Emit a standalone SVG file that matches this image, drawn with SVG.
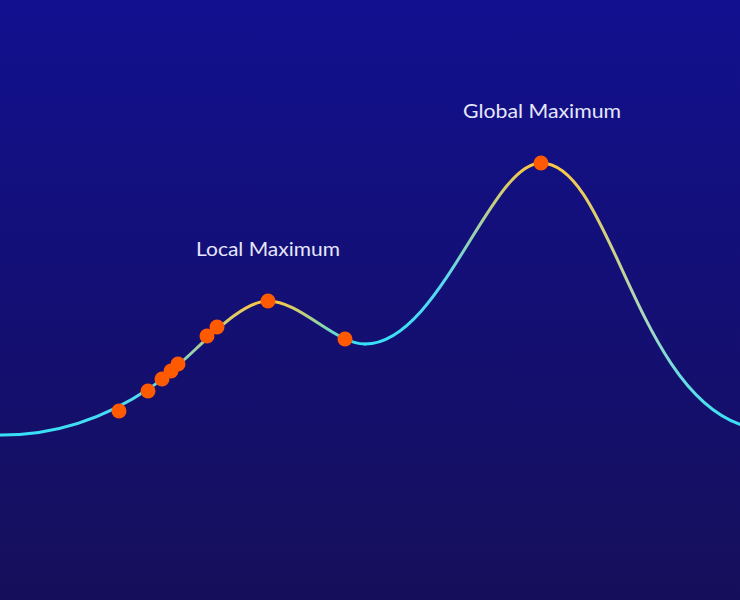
<svg xmlns="http://www.w3.org/2000/svg" width="740" height="600" viewBox="0 0 740 600">
  <defs>
    <linearGradient id="bg" x1="0" y1="0" x2="0" y2="1">
      <stop offset="0" stop-color="#12108f"/>
      <stop offset="1" stop-color="#150f5a"/>
    </linearGradient>
    <linearGradient id="g1" gradientUnits="userSpaceOnUse" x1="0" y1="435" x2="0" y2="301">
      <stop offset="0" stop-color="#38e0f7"/>
      <stop offset="0.35" stop-color="#5ad8f0"/>
      <stop offset="1" stop-color="#f8c845"/>
    </linearGradient>
    <linearGradient id="g2" gradientUnits="userSpaceOnUse" x1="0" y1="301" x2="0" y2="344">
      <stop offset="0" stop-color="#f8c845"/>
      <stop offset="1" stop-color="#38e0f7"/>
    </linearGradient>
    <linearGradient id="g3" gradientUnits="userSpaceOnUse" x1="0" y1="344" x2="0" y2="163">
      <stop offset="0" stop-color="#38e0f7"/>
      <stop offset="0.35" stop-color="#5ad8f0"/>
      <stop offset="1" stop-color="#f8c845"/>
    </linearGradient>
    <linearGradient id="g4" gradientUnits="userSpaceOnUse" x1="0" y1="163" x2="0" y2="425">
      <stop offset="0" stop-color="#f8c845"/>
      <stop offset="0.6" stop-color="#a8d8c0"/>
      <stop offset="1" stop-color="#38e0f7"/>
    </linearGradient>
    <style>
      .curve { fill: none; stroke-width: 3; stroke-linecap: round; }
      .dot { fill: #ff5a00; }
      .label { font-family: Lato, "Noto Sans", "Liberation Sans", sans-serif; font-size: 20px; fill: #e6e6fa; }
    </style>
  </defs>
  <rect width="740" height="600" fill="url(#bg)"/>
  <g id="connectors">
    <path class="curve" stroke="url(#g1)" d="M-2,435 C60,436 110,415 150,388 C190,361 235,301 268,301"/>
    <path class="curve" stroke="url(#g2)" d="M268,301 C300,301 335,344 365,344"/>
    <path class="curve" stroke="url(#g3)" d="M365,344 C440,344 490,163 541,163"/>
    <path class="curve" stroke="url(#g4)" d="M541,163 C610,163 635,390 742,425"/>
  </g>
  <g id="points">
    <circle class="dot" cx="119" cy="411" r="7.5"/>
    <circle class="dot" cx="148" cy="391" r="7.5"/>
    <circle class="dot" cx="162" cy="379" r="7.5"/>
    <circle class="dot" cx="171" cy="371" r="7.5"/>
    <circle class="dot" cx="178" cy="364" r="7.5"/>
    <circle class="dot" cx="207" cy="336" r="7.5"/>
    <circle class="dot" cx="217" cy="327" r="7.5"/>
    <circle class="dot" cx="268" cy="301" r="7.5"/>
    <circle class="dot" cx="345" cy="339" r="7.5"/>
    <circle class="dot" cx="541" cy="163" r="7.5"/>
  </g>
  <g id="local-label">
    <text class="label" x="196" y="256" textLength="144" lengthAdjust="spacingAndGlyphs">Local Maximum</text>
  </g>
  <g id="global-label">
    <text class="label" x="463" y="118" textLength="158" lengthAdjust="spacingAndGlyphs">Global Maximum</text>
  </g>
</svg>
